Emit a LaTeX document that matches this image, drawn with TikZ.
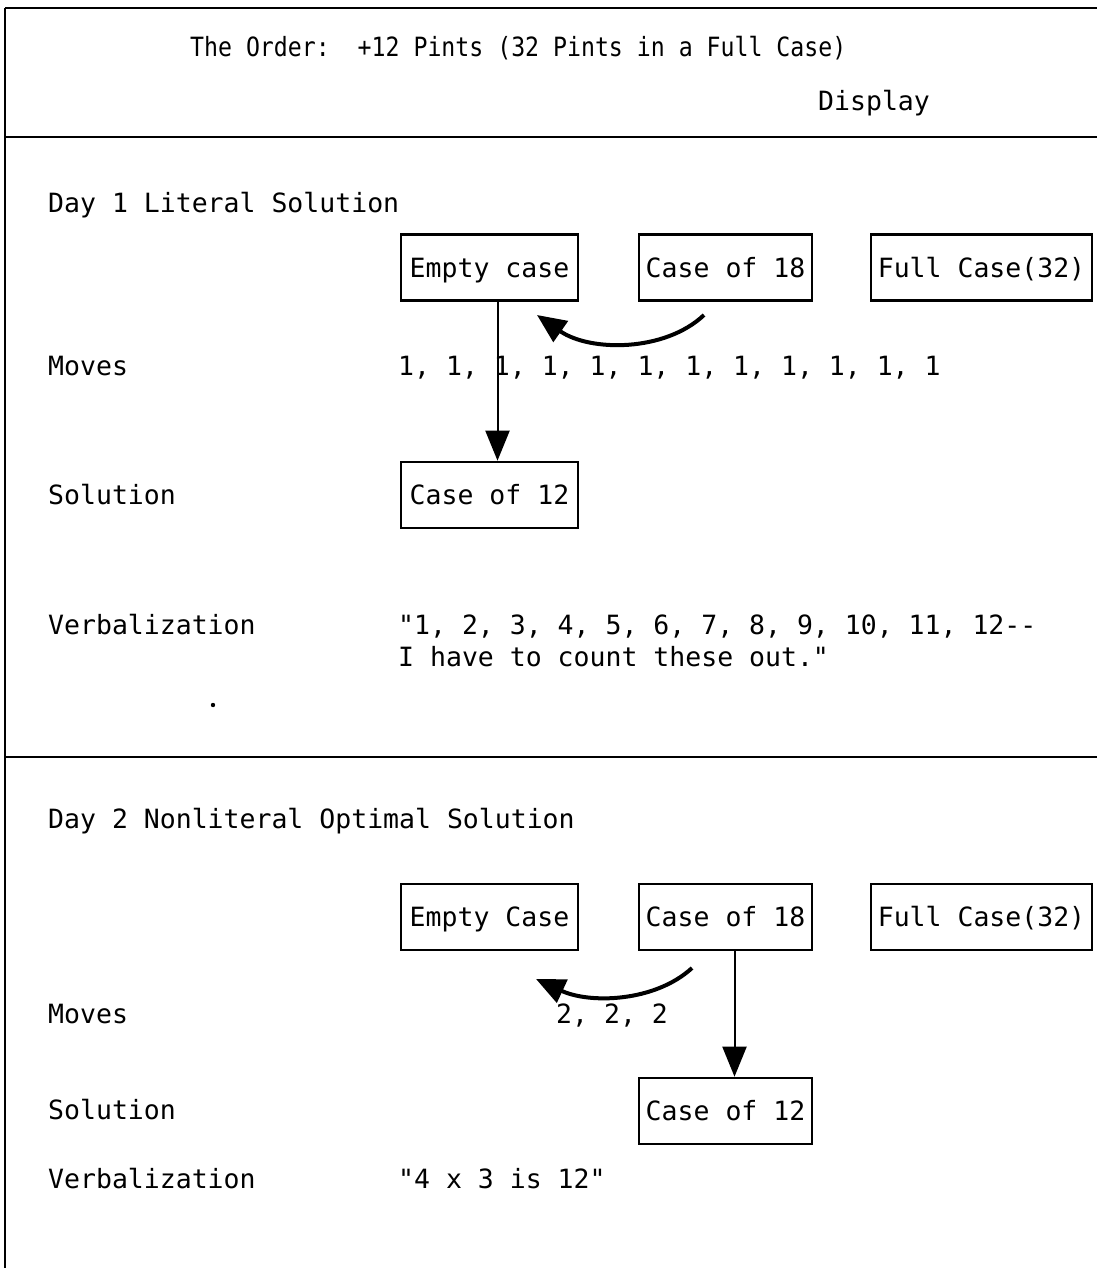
\documentclass[tikz,border=0pt]{standalone}
\usepackage{fontspec}
\usetikzlibrary{arrows.meta}
\newfontfamily\typewr{DejaVu Sans Mono}
\newfontfamily\typewrnarrow[FakeStretch=0.875]{DejaVu Sans Mono}
\begin{document}
\begin{tikzpicture}[x=1pt,y=-1pt,
  txt/.style={font=\typewr\fontsize{26.5}{32}\selectfont, inner sep=0pt, anchor=base west},
  casebox/.style={draw, line width=2.6pt, font=\typewr\fontsize{26.5}{32}\selectfont,
    inner sep=0pt, text height=22pt, text depth=3pt, minimum height=66pt},
  rule/.style={line width=2.8pt},
  drop/.style={line width=2pt, -{Triangle[length=30pt,width=24pt]}},
  swing/.style={line width=4pt, -{Triangle[length=29pt,width=25pt]}}
]
\useasboundingbox (0,0) rectangle (1097,1268);

% frame and section rules
\coordinate (tl) at (5,8);
\coordinate (tr) at (1097,8);
\coordinate (bl) at (5,1268);
\draw[rule] (tl) -- (tr);
\draw[line width=2pt] (tl) -- (bl);
\draw[rule] (5,137) -- (1097,137);
\draw[rule] (5,757) -- (1097,757);

% header
\node[txt, font=\typewrnarrow\fontsize{26.5}{32}\selectfont] (title) at (190,57)
  {The Order:\ \ +12 Pints (32 Pints in a Full Case)};
\node[txt] (display) at (818,111) {Display};

% Day 1
\node[txt] (day1) at (48,212) {Day 1 Literal Solution};
\node[casebox, minimum width=177pt] (e1) at (489.5,267.5) {Empty case};
\node[casebox, minimum width=173pt] (c18a) at (725.5,267.5) {Case of 18};
\node[casebox, minimum width=221pt] (f1) at (981.5,267.5) {Full Case(32)};
\node[txt] (moves1) at (48,375) {Moves};
\node[txt] (m1) at (398,375) {1, 1, 1, 1, 1, 1, 1, 1, 1, 1, 1, 1};
\node[txt] (sol1) at (48,504) {Solution};
\node[casebox, minimum width=177pt] (c12a) at (489.5,495) {Case of 12};
\node[txt] (verb1) at (48,634) {Verbalization};
\node[txt] (v1a) at (398,634) {"1, 2, 3, 4, 5, 6, 7, 8, 9, 10, 11, 12--};
\node[txt] (v1b) at (398,666) {I have to count these out."};
\fill (213,705) circle (2.2pt);

\draw[drop] ([xshift=8pt]e1.south) -- ([xshift=8pt]c12a.north);
\coordinate (s1) at (704,315);
\coordinate (t1) at (537,315);
\draw[swing] (s1) .. controls (665,352) and (590,352) .. (t1);

% Day 2
\node[txt] (day2) at (48,828) {Day 2 Nonliteral Optimal Solution};
\node[casebox, minimum width=177pt] (e2) at (489.5,917) {Empty Case};
\node[casebox, minimum width=173pt] (c18b) at (725.5,917) {Case of 18};
\node[casebox, minimum width=221pt] (f2) at (981.5,917) {Full Case(32)};
\node[txt] (moves2) at (48,1023) {Moves};
\node[txt] (m2) at (556,1023) {2, 2, 2};
\node[txt] (sol2) at (48,1119) {Solution};
\node[casebox, minimum width=173pt] (c12b) at (725.5,1111) {Case of 12};
\node[txt] (verb2) at (48,1188) {Verbalization};
\node[txt] (v2) at (398,1188) {"4 x 3 is 12"};

\draw[drop] ([xshift=9pt]c18b.south) -- ([xshift=9pt]c12b.north);
\coordinate (s2) at (692,968);
\coordinate (t2) at (536,979);
\draw[swing] (s2) .. controls (655,1002) and (590,1004) .. (t2);
\end{tikzpicture}
\end{document}
